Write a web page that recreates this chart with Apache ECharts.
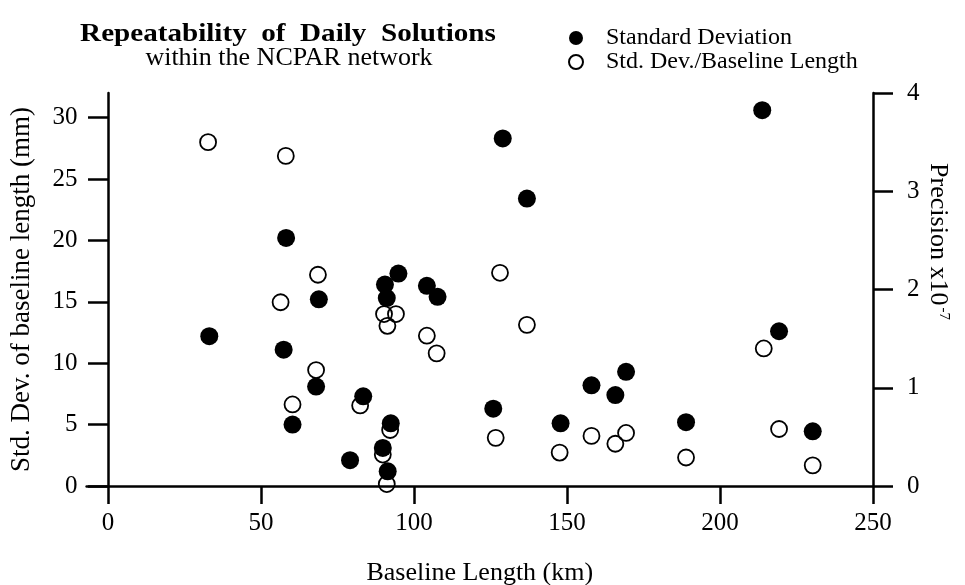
<!DOCTYPE html>
<html><head><meta charset="utf-8">
<script src="https://cdn.jsdelivr.net/npm/echarts@6/dist/echarts.min.js"></script>
<style>html,body{margin:0;padding:0;background:#fff}#c{width:965px;height:585px}</style>
</head><body><div id="c"></div>
<script>
// Tick labels
const xTicks = [0, 50, 100, 150, 200, 250];
const leftTicks = [0, 5, 10, 15, 20, 25, 30];
const rightTicks = [0, 1, 2, 3, 4];

// Standard deviation (filled circles): baseline length (km) and std. dev. (mm)
const sdKm = [33.1, 58.2, 57.4, 60.3, 68.9, 68.0, 79.1, 83.4, 90.5, 91.1, 94.9, 92.4, 89.8, 91.4, 104.2, 107.7, 125.9, 129.0, 136.9, 147.9, 158.0, 165.8, 169.3, 188.9, 213.8, 219.3, 230.3];
const sdMm = [12.2, 20.2, 11.1, 5.0, 15.2, 8.1, 2.1, 7.3, 16.4, 15.3, 17.3, 5.1, 3.1, 1.2, 16.3, 15.4, 6.3, 28.3, 23.4, 5.1, 8.2, 7.4, 9.3, 5.2, 30.6, 12.6, 4.45];

// Std. Dev./Baseline Length (open circles): baseline length (km) and precision (x10^-7)
const precKm = [32.7, 58.1, 56.4, 60.3, 68.6, 68.0, 82.4, 90.2, 94.1, 91.3, 92.2, 89.8, 91.1, 104.2, 107.4, 126.7, 128.1, 136.9, 147.6, 158.0, 165.8, 169.3, 188.9, 214.3, 219.3, 230.3];
const precVal = [3.50, 3.36, 1.87, 0.83, 2.15, 1.18, 0.82, 1.75, 1.75, 1.63, 0.57, 0.32, 0.02, 1.53, 1.35, 0.49, 2.17, 1.64, 0.34, 0.51, 0.43, 0.54, 0.29, 1.40, 0.58, 0.21];

const FONT = 'Liberation Serif';
const chart = echarts.init(document.getElementById('c'), null, {renderer: 'canvas'});

const sdData = sdKm.map((x, i) => [x, sdMm[i]]);
const precData = precKm.map((x, i) => [x, precVal[i]]);

chart.setOption({
  animation: false,
  backgroundColor: '#fff',
  graphic: [
    {type: 'text', x: 288, y: 34, scaleX: 1.12, style: {text: 'Repeatability  of  Daily  Solutions', font: 'bold 26px "Liberation Serif"', fill: '#000', textAlign: 'center', textVerticalAlign: 'middle'}},
    {type: 'text', x: 289, y: 58, style: {text: 'within the NCPAR network', font: '26px "Liberation Serif"', fill: '#000', textAlign: 'center', textVerticalAlign: 'middle'}}
  ],
  legend: {
    orient: 'vertical', left: 563, top: 21, itemWidth: 14, itemHeight: 14, itemGap: 0,
    textStyle: {fontFamily: FONT, fontSize: 24, lineHeight: 24, color: '#000', padding: [0, 0, 0, 18]},
    data: [{name: 'Standard Deviation', icon: 'circle'}, {name: 'Std. Dev./Baseline Length', icon: 'circle'}]
  },
  grid: {left: 86.6, right: 92, top: 93, bottom: 99, containLabel: false, outerBoundsMode: 'none'},
  xAxis: {
    type: 'value', min: -7, max: 250,
    name: 'Baseline Length (km)', nameLocation: 'middle', nameGap: 74, nameMoveOverlap: false,
    nameTextStyle: {fontFamily: FONT, fontSize: 26, color: '#000'},
    axisLine: {onZero: false, lineStyle: {color: '#000', width: 2.5}},
    axisTick: {show: true, inside: false, length: 18, lineStyle: {color: '#000', width: 2.5}, customValues: xTicks},
    axisLabel: {fontFamily: FONT, fontSize: 25, color: '#000', margin: 25, customValues: xTicks},
    splitLine: {show: false}
  },
  yAxis: [
    {
      type: 'value', position: 'left', min: 0, max: 32,
      name: 'Std. Dev. of baseline length (mm)', nameLocation: 'middle', nameGap: 51, nameRotate: 90, nameMoveOverlap: false,
      nameTextStyle: {fontFamily: FONT, fontSize: 27, color: '#000'},
      axisLine: {show: true, onZero: true, lineStyle: {color: '#000', width: 2.5}},
      axisTick: {show: true, length: 20, lineStyle: {color: '#000', width: 2.5}, customValues: leftTicks},
      axisLabel: {fontFamily: FONT, fontSize: 25, color: '#000', margin: 9, customValues: leftTicks},
      splitLine: {show: false}
    },
    {
      type: 'value', position: 'right', min: 0, max: 4, interval: 1,
      name: '{a|Precision x10}{s|-7}', nameLocation: 'middle', nameGap: 52, nameRotate: -90, nameMoveOverlap: false,
      nameTextStyle: {fontFamily: FONT, fontSize: 26, color: '#000', padding: [0, 96, 0, 0],
        rich: {a: {fontFamily: FONT, fontSize: 26, color: '#000'}, s: {fontFamily: FONT, fontSize: 15, color: '#000', verticalAlign: 'top', padding: [0, 0, 10, 2]}}},
      axisLine: {show: true, onZero: false, lineStyle: {color: '#000', width: 2.5}},
      axisTick: {show: true, length: 20, lineStyle: {color: '#000', width: 2.5}},
      axisLabel: {fontFamily: FONT, fontSize: 25, color: '#000', margin: 34, customValues: rightTicks},
      splitLine: {show: false}
    }
  ],
  series: [
    {
      name: 'Std. Dev./Baseline Length', type: 'scatter', yAxisIndex: 1, data: precData,
      symbol: 'circle', symbolSize: 16,
      itemStyle: {color: 'rgba(255,255,255,0)', borderColor: '#000', borderWidth: 1.8, opacity: 1}
    },
    {
      name: 'Standard Deviation', type: 'scatter', yAxisIndex: 0, data: sdData,
      symbol: 'circle', symbolSize: 18,
      itemStyle: {color: '#000', opacity: 1}
    }
  ]
});
</script></body></html>
